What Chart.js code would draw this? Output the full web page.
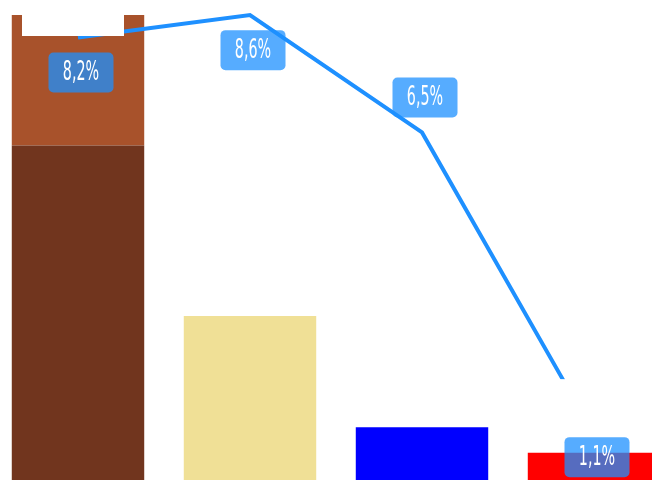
<!DOCTYPE html>
<html>
<head>
<meta charset="utf-8">
<script src="https://cdn.jsdelivr.net/npm/chart.js@4/dist/chart.umd.min.js"></script>
<style>
    html, body { margin: 0; padding: 0; background: #fff; overflow: hidden; }
    #wrap { position: absolute; left: -8px; top: -10px; width: 688px; height: 500px; }
</style>
</head>
<body>
<div id="wrap"><canvas id="chartCanvas"></canvas></div>
<script>
// Data
const categories = ['A', 'B', 'C', 'D'];
const baseValues = [6.2, 3.13, 1.13, 0.67];
const topValues = [2.35, 0, 0, 0];
const rateValues = [8.2, 8.6, 6.5, 1.1];
const rateLabels = ['8,2%', '8,6%', '6,5%', '1,1%'];

// Label boxes for the line + white patches seen in the picture
const labelOffsets = [35, 35, -35, 23];

const rateLabelPlugin = {
    id: 'rateLabels',
    afterDatasetsDraw(chart) {
        const ctx = chart.ctx;
        const linePts = chart.getDatasetMeta(0).data;
        const bars = chart.getDatasetMeta(1).data;
        const boxW = 65, boxH = 40;

        const boxes = linePts.map((p, i) => {
            const cy = p.y + labelOffsets[i];
            return { x: p.x + 3 - boxW / 2, y: cy - boxH / 2 };
        });

        ctx.save();
        ctx.fillStyle = '#ffffff';
        // white patch over first bar top
        const b0 = bars[0];
        ctx.fillRect(b0.x - 56, 0, 102, 46);
        // white patch above last label
        const last = boxes[boxes.length - 1];
        ctx.fillRect(last.x - 22, last.y - 58, chart.width, 58);

        boxes.forEach((b, i) => {
            ctx.fillStyle = 'rgba(30, 144, 255, 0.75)';
            ctx.beginPath();
            ctx.roundRect(b.x, b.y, boxW, boxH, 5);
            ctx.fill();

            ctx.save();
            ctx.translate(b.x + boxW / 2, b.y + boxH / 2 + 1);
            ctx.scale(0.55, 1);
            ctx.fillStyle = '#ffffff';
            ctx.font = '26px "DejaVu Sans", sans-serif';
            ctx.textAlign = 'center';
            ctx.textBaseline = 'middle';
            ctx.fillText(rateLabels[i], 0, 0);
            ctx.restore();
        });
        ctx.restore();
    }
};

const ctx = document.getElementById('chartCanvas').getContext('2d');

new Chart(ctx, {
    data: {
        labels: categories,
        datasets: [
            {
                type: 'line',
                label: 'Rate',
                data: rateValues,
                yAxisID: 'y1',
                borderColor: 'rgb(30, 144, 255)',
                borderWidth: 4,
                pointRadius: 0,
                tension: 0,
                order: 0
            },
            {
                type: 'bar',
                label: 'Base',
                data: baseValues,
                backgroundColor: [
                    'rgb(113, 53, 30)',
                    'rgb(240, 224, 150)',
                    'rgb(0, 0, 255)',
                    'rgb(255, 0, 0)'
                ],
                stack: 's',
                order: 1
            },
            {
                type: 'bar',
                label: 'Top',
                data: topValues,
                backgroundColor: 'rgb(168, 82, 43)',
                stack: 's',
                order: 1
            }
        ]
    },
    options: {
        responsive: true,
        maintainAspectRatio: false,
        animation: false,
        layout: { padding: 0 },
        datasets: {
            bar: { barPercentage: 0.77, categoryPercentage: 1 }
        },
        scales: {
            x: { display: false, stacked: true },
            y: { display: false, stacked: true, min: 0, max: 9 },
            y1: { display: false, min: 0.1, max: 9.05 }
        },
        plugins: {
            legend: { display: false },
            tooltip: { enabled: false }
        }
    },
    plugins: [rateLabelPlugin]
});
</script>
</body>
</html>
